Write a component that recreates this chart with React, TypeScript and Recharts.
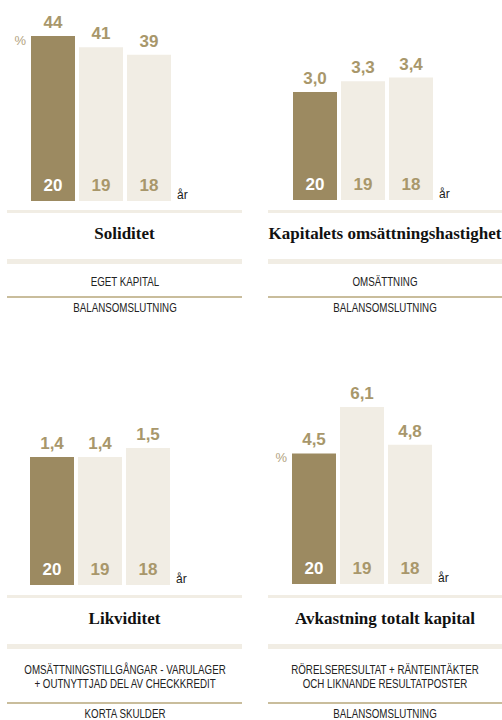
import React from "react";
import { BarChart, Bar, XAxis, YAxis, LabelList, Cell } from "recharts";

// years shown inside the bars (newest first)
const years = ["20", "19", "18"];

const soliditet = [44, 41, 39];
const omsattningshastighet = [3.0, 3.3, 3.4];
const likviditet = [1.4, 1.4, 1.5];
const avkastning = [4.5, 6.1, 4.8];

const DARK = "#9c8a61";
const LIGHT = "#f1ede4";
const TAN = "#a8976b";
const LINE = "#c9bd9c";
const SANS = '"Liberation Sans", Arial, sans-serif';
const SERIF = '"Liberation Serif", "Times New Roman", serif';

const fmt = (decimals: number) => (v: any) =>
	decimals === 0 ? String(v) : Number(v).toFixed(decimals).replace(".", ",");

const YearLabel = (props: any) => {
	const { x, y, width, height, value, index } = props;
	const first = index === 0 || value === years[0];
	return (
		<text
			x={x + width / 2}
			y={y + height - 10}
			textAnchor="middle"
			fontFamily={SANS}
			fontWeight={700}
			fontSize={17}
			fill={first ? "#ffffff" : TAN}>
			{value}
		</text>
	);
};

const Chart = ({
	values,
	decimals,
	percent,
	left,
	top,
	height,
	yMax,
}: {
	values: number[];
	decimals: number;
	percent?: boolean;
	left: number;
	top: number;
	height: number;
	yMax: number;
}) => {
	const data = years.map((year, i) => ({ year, value: values[i] }));
	const last = years.length - 1;
	return (
		<div style={{ position: "absolute", left: left - 30, top }}>
			<BarChart
				width={144 + 60}
				height={height}
				data={data}
				margin={{ top: 0, right: 30, bottom: 0, left: 30 }}>
				<XAxis dataKey="year" hide />
				<YAxis hide domain={[0, yMax]} allowDataOverflow />
				<Bar dataKey="value" barSize={44} isAnimationActive={false}>
					{data.map((d, i) => (
						<Cell key={d.year} fill={i === 0 ? DARK : LIGHT} />
					))}
					<LabelList
						dataKey="value"
						position="top"
						offset={8}
						formatter={fmt(decimals)}
						fill={TAN}
						fontFamily={SANS}
						fontWeight={700}
						fontSize={17}
					/>
					<LabelList dataKey="year" content={YearLabel} />
					<LabelList
						dataKey="year"
						content={(p: any) =>
							p.index === 0 && percent ? (
								<text
									x={p.x - 5}
									y={p.y + 9}
									textAnchor="end"
									fontFamily={SANS}
									fontSize={13}
									fill="#b3a381">
									%
								</text>
							) : p.index === last ? (
								<text
									x={p.x + p.width + 6}
									y={p.y + p.height - 2}
									fontFamily={SANS}
									fontSize={12}
									fill="#1a1a1a">
									år
								</text>
							) : null
						}
					/>
				</Bar>
			</BarChart>
		</div>
	);
};

// condensed upper-case caption block, centred on x = left + width / 2
const Caps = ({ lines, y, left, width }: { lines: string[]; y: number; left: number; width: number }) => (
	<div
		style={{
			position: "absolute",
			left: left + width / 2,
			top: y - 7,
			lineHeight: "14px",
			fontFamily: SANS,
			fontSize: 13,
			color: "#222",
			textAlign: "center",
			whiteSpace: "nowrap",
			transform: "translateX(-50%) scaleX(0.75)",
		}}>
		{lines.map((t, i) => (
			<div key={i}>{t}</div>
		))}
	</div>
);

const Caption = ({
	left,
	width,
	band,
	title,
	numerator,
	denominator,
}: {
	left: number;
	width: number;
	band: number;
	title: string;
	numerator: string[];
	denominator: string;
}) => {
	const two = numerator.length > 1;
	const lineY = band + (two ? 107 : 86);
	return (
		<>
			<div style={{ position: "absolute", left, width, top: band, height: 3, background: LIGHT }} />
			<div
				style={{
					position: "absolute",
					left,
					width,
					top: band + 24 - 10,
					height: 20,
					lineHeight: "20px",
					textAlign: "center",
					fontFamily: SERIF,
					fontWeight: 700,
					fontSize: 17,
					color: "#111",
					whiteSpace: "nowrap",
				}}>
				{title}
			</div>
			<div style={{ position: "absolute", left, width, top: band + 49, height: 5, background: LIGHT }} />
			<Caps lines={numerator} left={left} width={width} y={band + (two ? 74.5 : 72)} />
			<div style={{ position: "absolute", left, width, top: lineY, height: 1.5, background: LINE }} />
			<Caps lines={[denominator]} left={left} width={width} y={lineY + 12} />
		</>
	);
};

const App = () => {
	return (
		<div style={{ position: "absolute", left: 0, top: 0, width: 502, height: 720, background: "#fff" }}>
			<Chart values={soliditet} decimals={0} percent left={29} top={0} height={201} yMax={53.6} />
			<Chart values={omsattningshastighet} decimals={1} left={291} top={0} height={200} yMax={5.556} />
			<Chart values={likviditet} decimals={1} left={28} top={380} height={205} yMax={2.243} />
			<Chart values={avkastning} decimals={1} percent left={290} top={380} height={204} yMax={7.034} />

			<Caption
				left={7}
				width={235}
				band={210}
				title="Soliditet"
				numerator={["EGET KAPITAL"]}
				denominator="BALANSOMSLUTNING"
			/>
			<Caption
				left={268}
				width={234}
				band={210}
				title="Kapitalets omsättningshastighet"
				numerator={["OMSÄTTNING"]}
				denominator="BALANSOMSLUTNING"
			/>
			<Caption
				left={7}
				width={235}
				band={595}
				title="Likviditet"
				numerator={["OMSÄTTNINGSTILLGÅNGAR - VARULAGER", "+ OUTNYTTJAD DEL AV CHECKKREDIT"]}
				denominator="KORTA SKULDER"
			/>
			<Caption
				left={268}
				width={234}
				band={595}
				title="Avkastning totalt kapital"
				numerator={["RÖRELSERESULTAT + RÄNTEINTÄKTER", "OCH LIKNANDE RESULTATPOSTER"]}
				denominator="BALANSOMSLUTNING"
			/>
		</div>
	);
};

export default App;
